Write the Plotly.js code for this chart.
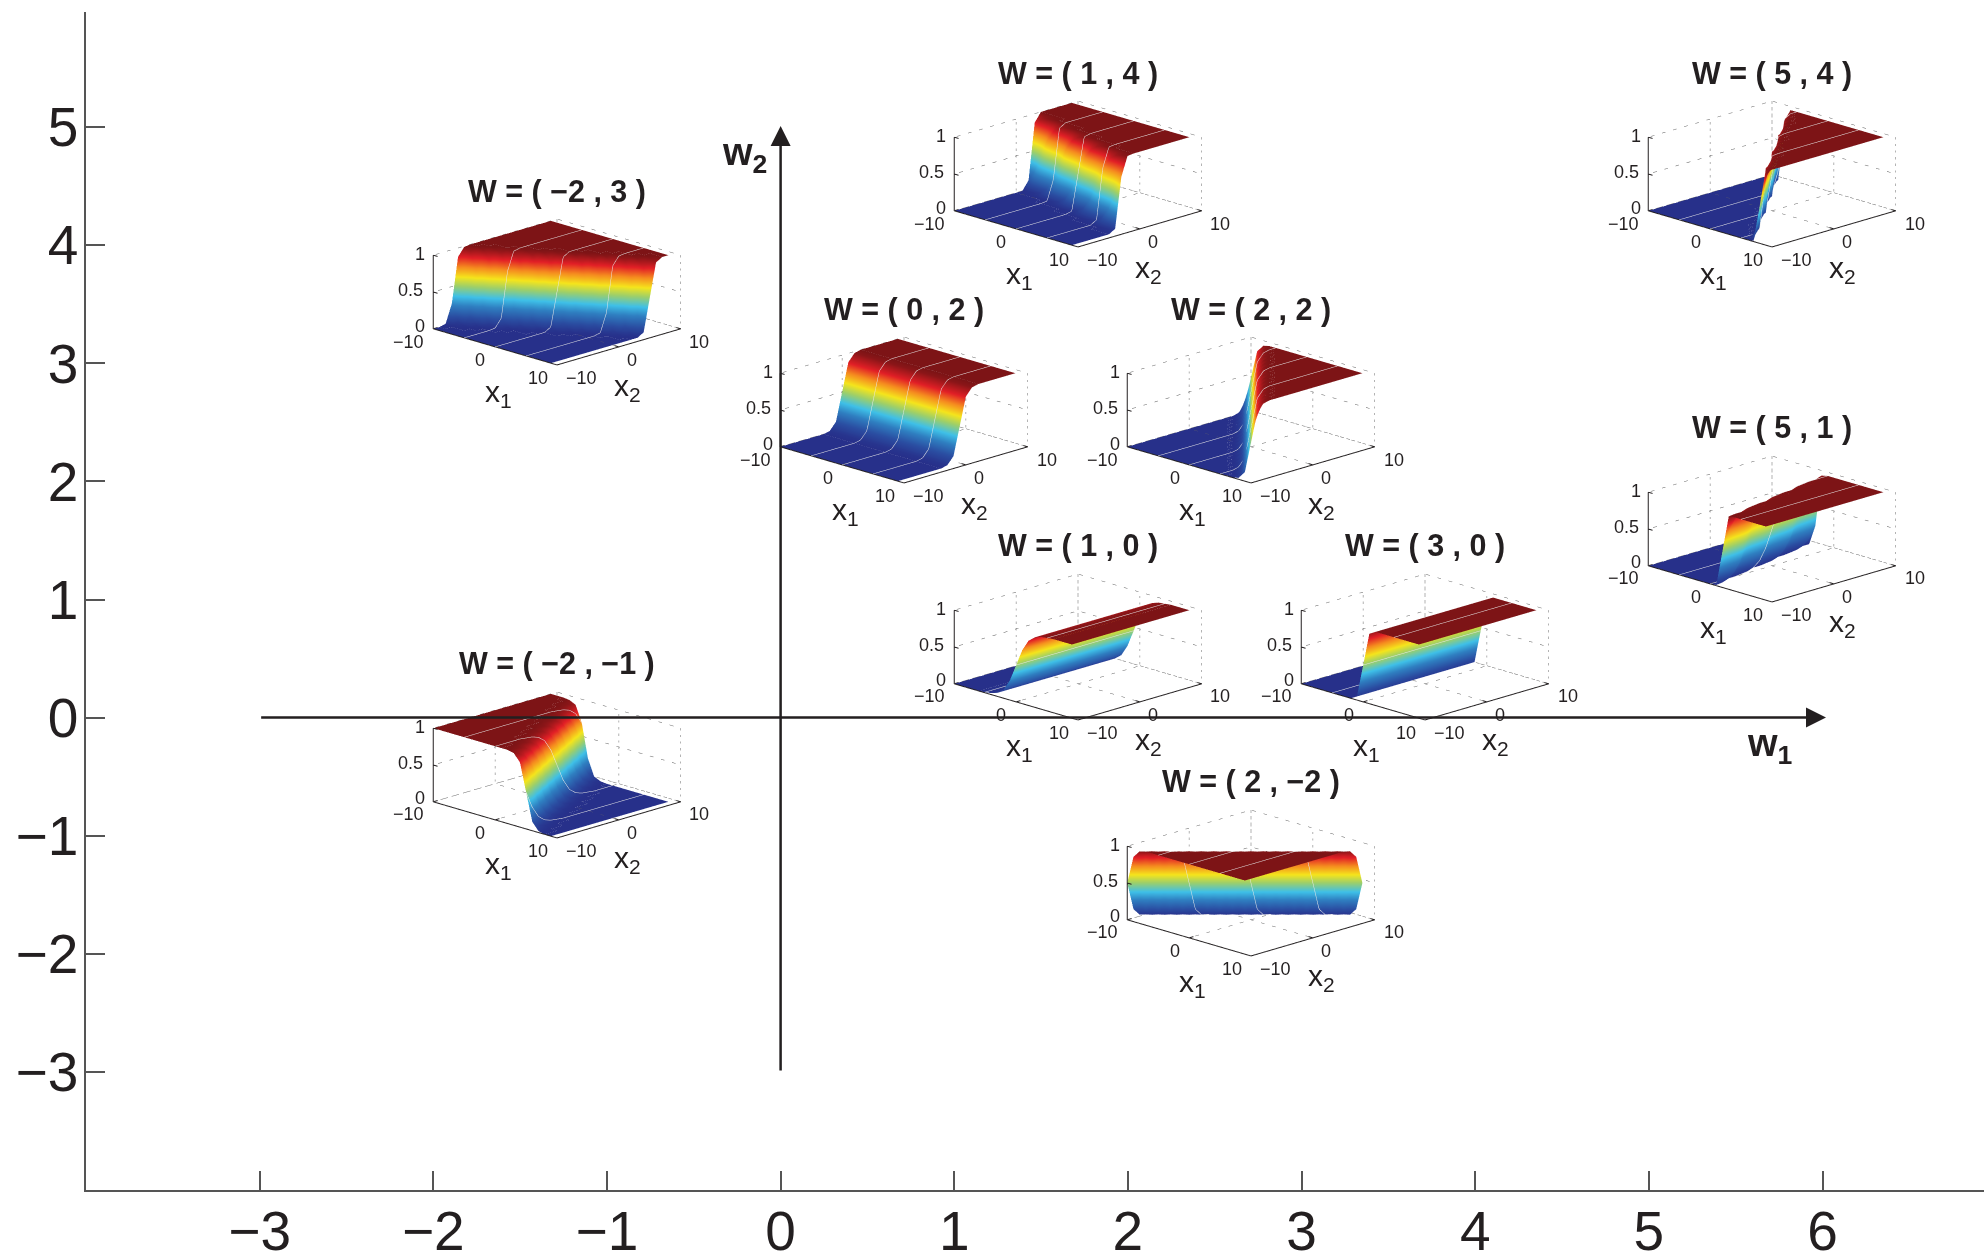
<!DOCTYPE html>
<html><head><meta charset="utf-8">
<script src="https://cdn.plot.ly/plotly-3.0.1.min.js"></script>
<style>html,body{margin:0;padding:0;background:#fff}#c{width:1984px;height:1254px}</style></head>
<body><div id="c"></div>
<script>
const xTicks=[-3,-2,-1,0,1,2,3,4,5,6];
const yTicks=[-3,-2,-1,0,1,2,3,4,5];
const gridX=[-10,-9,-8,-7,-6,-5,-4,-3,-2,-1,0,1,2,3,4,5,6,7,8,9];
const gridY=[-10,-9,-8,-7,-6,-5,-4,-3,-2,-1,0,1,2,3,4,5,6,7,8,9];
const surfaceTicks=[-10,0,10];
const heightTicks=[0,0.5,1];

// Ramps seen on the surfaces, listed in the order they occur along a grid row
const up11=[.01,.02,.05,.12,.27,.5,.73,.88,.95,.98,.99];
const up5=[.02,.12,.5,.88,.98];
const dn5=[.98,.88,.5,.12,.02];
const dn6=[.99,.95,.73,.27,.05,.01];

// Each row: count of leading flat cells, then the ramp cells; the rest of the row is flat at the other level
const rowsMinus2Plus3=[[0],[0],[0,.02],[0,.27,.05,.01],[0,.88,.5,.12,.02],[0,...dn6],[2,...dn5],[3,...dn6],[5,...dn5],[6,...dn6],[8,...dn5],[9,...dn6],[11,...dn5],[12,...dn6],[14,...dn5],[15,...dn6],[17,.98,.88,.5,.12],[18,.99,.95,.73],[20,.98],[21]];
const rowsMinus2Minus1=[[13,...dn5],[12,...dn6],[12,...dn5],[11,...dn6],[11,...dn5],[10,...dn6],[10,...dn5],[9,...dn6],[9,...dn5],[8,...dn6],[8,...dn5],[7,...dn6],[7,...dn5],[6,...dn6],[6,...dn5],[5,...dn6],[5,...dn5],[4,...dn6],[4,...dn5],[3,...dn6]];
const profile0Plus2=[8,...up5];
const row1Plus0=[5,...up11];
const row3Plus0=[9,.05,.5,.95];
const rows1Plus4=[[21],[21],[21],[21],[21],[21],[21],[17,.01,.02,.05,.12],[13,.01,.02,.05,.12,.27,.5,.73,.88],[9,...up11],[5,...up11],[1,...up11],[0,.12,.27,.5,.73,.88,.95,.98,.99],[0,.88,.95,.98,.99],[0],[0],[0],[0],[0],[0]];
const rows2Plus2=[[18,.02,.12],[17,.02,.12,.5],[16,...up5],[15,...up5],[14,...up5],[13,...up5],[12,...up5],[11,...up5],[10,...up5],[9,...up5],[8,...up5],[7,...up5],[6,...up5],[5,...up5],[4,...up5],[3,...up5],[2,...up5],[1,...up5],[0,...up5],[0,.12,.5,.88,.98]];
const rows2Minus2=[[0,.5,.88,.98],[0,.12,.5,.88,.98],[0,...up5],[1,...up5],[2,...up5],[3,...up5],[4,...up5],[5,...up5],[6,...up5],[7,...up5],[8,...up5],[9,...up5],[10,...up5],[11,...up5],[12,...up5],[13,...up5],[14,...up5],[15,...up5],[16,...up5],[17,.02,.12,.5]];
const rows5Plus1=[[11,.01,.5,.99],[11,.02,.73],[11,.05,.88],[11,.12,.95],[11,.27,.98],[10,.01,.5,.99],[10,.02,.73],[10,.05,.88],[10,.12,.95],[10,.27,.98],[9,.01,.5,.99],[9,.02,.73],[9,.05,.88],[9,.12,.95],[9,.27,.98],[8,.01,.5,.99],[8,.02,.73],[8,.05,.88],[8,.12,.95],[8,.27,.98]];
const rows5Plus4=[[17,.01,.5,.99],[17,.27,.98],[16,.12,.95],[15,.05,.88],[14,.02,.73],[13,.01,.5,.99],[13,.27,.98],[12,.12,.95],[11,.05,.88],[10,.02,.73],[9,.01,.5,.99],[9,.27,.98],[8,.12,.95],[7,.05,.88],[6,.02,.73],[5,.01,.5,.99],[5,.27,.98],[4,.12,.95],[3,.05,.88],[2,.02,.73]];

function expandRow(r,head,tail){const o=Array(r[0]).fill(head);o.push(...r.slice(1));while(o.length<gridX.length)o.push(tail);return o.slice(0,gridX.length);}
function expand(rows,head,tail){return rows.map(r=>expandRow(r,head,tail));}

const panelW1=[-2,1,5,0,2,5,1,3,-2,2];
const panelW2=[3,4,4,2,2,1,0,0,-1,-2];
const panelZ=[
 expand(rowsMinus2Plus3,1,0),
 expand(rows1Plus4,0,1),
 expand(rows5Plus4,0,1),
 expandRow(profile0Plus2,0,1).map(v=>Array(gridX.length).fill(v)),
 expand(rows2Plus2,0,1),
 expand(rows5Plus1,0,1),
 gridY.map(()=>expandRow(row1Plus0,0,1)),
 gridY.map(()=>expandRow(row3Plus0,0,1)),
 expand(rowsMinus2Minus1,1,0),
 expand(rows2Minus2,0,1)
];

const M={l:86,r:0,t:12,b:64},W=1984,H=1254;
const xRange=[-4,6.93],yRange=[-4,5.975];
const plotW=W-M.l-M.r,plotH=H-M.t-M.b;
const pxX=v=>M.l+(v-xRange[0])/(xRange[1]-xRange[0])*plotW;
const pxY=v=>M.t+(yRange[1]-v)/(yRange[1]-yRange[0])*plotH;
const sceneW=290,sceneH=210,centerDx=123.5,centerDy=-71;

const jet=[[0,'#27308a'],[0.1,'#2a4ba0'],[0.25,'#2f7fc1'],[0.37,'#3fc0e8'],[0.5,'#9dcf6a'],[0.62,'#f5e51c'],[0.75,'#f58a1f'],[0.87,'#e21f26'],[1,'#7d1416']];
const ink='#231f20';

function gridSegs(){
 const X=[],Y=[],Z=[];const seg=(a,b)=>{X.push(a[0],b[0],null);Y.push(a[1],b[1],null);Z.push(a[2],b[2],null);};
 const [lo,,hi]=surfaceTicks;
 surfaceTicks.forEach(t=>{seg([t,lo,0],[t,hi,0]);seg([lo,t,0],[hi,t,0]);seg([lo,t,0],[lo,t,1]);seg([t,hi,0],[t,hi,1]);});
 heightTicks.forEach(h=>{seg([lo,lo,h],[lo,hi,h]);seg([lo,hi,h],[hi,hi,h]);});
 return {X,Y,Z};
}
function axisSegs(){
 const X=[],Y=[],Z=[];const seg=(a,b)=>{X.push(a[0],b[0],null);Y.push(a[1],b[1],null);Z.push(a[2],b[2],null);};
 const [lo,,hi]=surfaceTicks;
 seg([lo,lo,0],[hi,lo,0]);seg([hi,lo,0],[hi,hi,0]);seg([lo,lo,0],[lo,lo,1]);
 surfaceTicks.forEach(t=>{seg([t,lo,0],[t,lo+0.7,0]);seg([hi,t,0],[hi-0.7,t,0]);});
 heightTicks.forEach(h=>seg([lo,lo,h],[lo+0.7,lo,h]));
 return {X,Y,Z};
}
const G=gridSegs(),A=axisSegs();
const data=[{type:'scatter',x:[xTicks[0]],y:[yTicks[0]],mode:'markers',marker:{opacity:0},hoverinfo:'skip',showlegend:false}];
const layout={width:W,height:H,margin:M,paper_bgcolor:'#fff',plot_bgcolor:'rgba(0,0,0,0)',showlegend:false,
 xaxis:{range:xRange,tickvals:xTicks,ticks:'inside',ticklen:19,tickwidth:1.5,tickcolor:'#555',showline:true,linecolor:'#555',linewidth:1.5,showgrid:false,zeroline:false,tickfont:{family:'Liberation Sans',size:55,color:ink},ticklabelstandoff:-8},
 yaxis:{range:yRange,tickvals:yTicks,ticks:'inside',ticklen:19,tickwidth:1.5,tickcolor:'#555',showline:true,linecolor:'#555',linewidth:1.5,showgrid:false,zeroline:false,tickfont:{family:'Liberation Sans',size:55,color:ink},ticklabelstandoff:-5},
 annotations:[]};

const ann=layout.annotations;
function note(w1,w2,dx,dy,text,size,bold){ann.push({x:w1,y:w2,xref:'x',yref:'y',xshift:dx,yshift:-dy,text:bold?'<b>'+text+'</b>':text,showarrow:false,xanchor:'center',yanchor:'middle',font:{family:'Liberation Sans',size:size,color:ink}});}
const fmt=v=>v<0?'\u2212'+Math.abs(v):''+v;
const meshLine={show:true,color:'#e8e8e8',width:1,start:-10,end:10,size:5};

panelW1.forEach((w1,k)=>{
 const w2=panelW2[k],id=k?'scene'+(k+1):'scene';
 const cx=pxX(w1)+centerDx,cy=pxY(w2)+centerDy;
 layout[id]={domain:{x:[(cx-sceneW/2-M.l)/plotW,(cx+sceneW/2-M.l)/plotW],y:[(M.t+plotH-(cy+sceneH/2))/plotH,(M.t+plotH-(cy-sceneH/2))/plotH]},
  bgcolor:'rgba(0,0,0,0)',aspectmode:'manual',aspectratio:{x:1.667,y:1.667,z:0.733},
  camera:{projection:{type:'orthographic'},eye:{x:2.5,y:-2.5,z:1.08},up:{x:0,y:0,z:1},center:{x:0,y:0,z:0}},
  xaxis:{visible:false,range:[-10,10]},yaxis:{visible:false,range:[-10,10]},zaxis:{visible:false,range:[0,1]}};
 data.push({type:'scatter3d',scene:id,mode:'lines',x:G.X,y:G.Y,z:G.Z,line:{color:'#666',width:1,dash:'dot'},hoverinfo:'skip',showlegend:false});
 data.push({type:'scatter3d',scene:id,mode:'lines',x:A.X,y:A.Y,z:A.Z,line:{color:ink,width:2},hoverinfo:'skip',showlegend:false});
 data.push({type:'surface',scene:id,x:gridX,y:gridY,z:panelZ[k],cmin:0,cmax:1,colorscale:jet,showscale:false,hoverinfo:'skip',
  lighting:{ambient:1,diffuse:0,specular:0,roughness:1,fresnel:0},
  contours:{x:meshLine}});
 note(w1,w2,centerDx,-172,'W = ( '+fmt(w1)+' , '+fmt(w2)+' )',30.5,true);
 note(w1,w2,-13,-109,'1',18);note(w1,w2,-22.5,-73,'0.5',18);note(w1,w2,-13,-37.5,'0',18);
 note(w1,w2,-25,-21.5,'\u221210',18);note(w1,w2,47,-3,'0',18);note(w1,w2,104.5,15,'10',18);
 note(w1,w2,148,15,'\u221210',18);note(w1,w2,198.5,-3,'0',18);note(w1,w2,266,-21.5,'10',18);
 note(w1,w2,65,30,'x<sub>1</sub>',30);note(w1,w2,194,24,'x<sub>2</sub>',30);
});
// axis arrows and their labels
const w1ArrowEnd=6.02,w2ArrowEnd=5.01;
ann.push({x:w1ArrowEnd,y:0,ax:xTicks[0],ay:0,xref:'x',yref:'y',axref:'x',ayref:'y',text:'',showarrow:true,arrowhead:2,arrowsize:1.6,arrowwidth:2.5,arrowcolor:ink,standoff:0,startstandoff:0});
ann.push({x:0,y:w2ArrowEnd,ax:0,ay:yTicks[0],xref:'x',yref:'y',axref:'x',ayref:'y',text:'',showarrow:true,arrowhead:2,arrowsize:1.6,arrowwidth:2.5,arrowcolor:ink,standoff:0,startstandoff:0});
note(6,0,-53,28,'w<sub>1</sub>',38,true);
note(0,5,-36,28,'w<sub>2</sub>',38,true);

Plotly.newPlot('c',data,layout,{displayModeBar:false});
</script></body></html>
